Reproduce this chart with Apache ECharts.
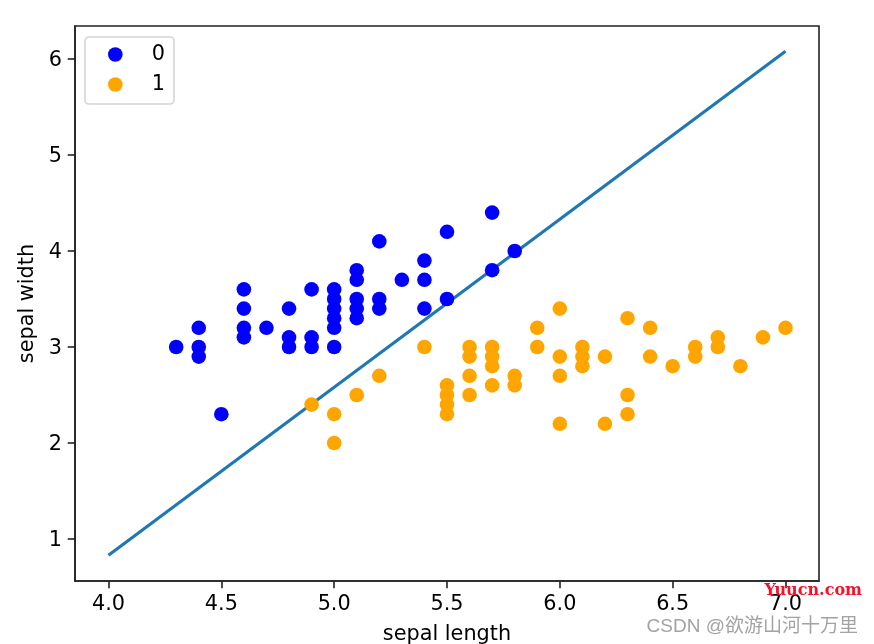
<!DOCTYPE html>
<html>
<head>
<meta charset="utf-8">
<title>sepal scatter</title>
<script src="https://cdn.jsdelivr.net/npm/echarts@6/dist/echarts.min.js"></script>
<style>
html,body{margin:0;padding:0;background:#fff;}
#chart{width:874px;height:644px;}
</style>
</head>
<body>
<div id="chart"></div>
<script>
// points: [sepal length, sepal width]
var class0 = [
	[4.3,3.0],[4.4,3.2],[4.4,3.0],[4.4,2.9],[4.5,2.3],
	[4.6,3.6],[4.6,3.4],[4.6,3.2],[4.6,3.1],[4.7,3.2],
	[4.8,3.4],[4.8,3.1],[4.8,3.0],[4.9,3.6],[4.9,3.1],[4.9,3.0],
	[5.0,3.6],[5.0,3.5],[5.0,3.4],[5.0,3.3],[5.0,3.2],[5.0,3.0],
	[5.1,3.8],[5.1,3.7],[5.1,3.5],[5.1,3.4],[5.1,3.3],
	[5.2,4.1],[5.2,3.5],[5.2,3.4],[5.3,3.7],
	[5.4,3.9],[5.4,3.7],[5.4,3.4],[5.5,4.2],[5.5,3.5],
	[5.7,4.4],[5.7,3.8],[5.8,4.0]
];
var class1 = [
	[4.9,2.4],[5.0,2.3],[5.0,2.0],[5.1,2.5],[5.2,2.7],[5.4,3.0],
	[5.5,2.6],[5.5,2.5],[5.5,2.4],[5.5,2.3],
	[5.6,3.0],[5.6,2.9],[5.6,2.7],[5.6,2.5],
	[5.7,3.0],[5.7,2.9],[5.7,2.8],[5.7,2.6],
	[5.8,2.7],[5.8,2.6],[5.9,3.2],[5.9,3.0],
	[6.0,3.4],[6.0,2.9],[6.0,2.7],[6.0,2.2],
	[6.1,3.0],[6.1,2.9],[6.1,2.8],[6.2,2.9],[6.2,2.2],
	[6.3,3.3],[6.3,2.5],[6.3,2.3],[6.4,3.2],[6.4,2.9],[6.5,2.8],
	[6.6,3.0],[6.6,2.9],[6.7,3.1],[6.7,3.0],[6.8,2.8],[6.9,3.1],[7.0,3.2]
];
var boundary = [[4.0,0.83],[7.0,6.08]];
var xTicks = [4.0,4.5,5.0,5.5,6.0,6.5,7.0];
var yTicks = [1,2,3,4,5,6];

var font = 'DejaVu Sans';
var myChart = echarts.init(document.getElementById('chart'));
myChart.setOption({
	animation:false,
	backgroundColor:'#fff',
	grid:{show:true,left:75,right:55,top:26,bottom:63,outerBoundsMode:'none',borderColor:'#222',borderWidth:1.6,backgroundColor:'#fff'},
	legend:{
		left:85,top:37,
		orient:'vertical',
		data:['0','1'],
		icon:'circle',
		itemWidth:63,itemHeight:14.6,itemGap:9,
		padding:[7,9,9,23],
		borderColor:'#d5d5d5',borderWidth:1.6,borderRadius:4,
		backgroundColor:'#fff',
		textStyle:{fontFamily:font,fontSize:20.8,color:'#000'}
	},
	xAxis:{
		type:'value',min:3.8516,max:7.1484,
		name:'sepal length',nameLocation:'middle',nameGap:43,
		nameTextStyle:{fontFamily:font,fontSize:20.8,color:'#000'},
		splitLine:{show:false},
		axisLine:{onZero:false,lineStyle:{color:'#222',width:1.6}},
		axisTick:{customValues:xTicks,length:7.3,lineStyle:{color:'#222',width:1.6}},
		axisLabel:{customValues:xTicks,margin:13,fontFamily:font,fontSize:20.8,color:'#000',
			formatter:function(v){return v.toFixed(1);}}
	},
	yAxis:{
		type:'value',min:0.5625,max:6.3438,
		name:'sepal width',nameLocation:'middle',nameGap:35,
		nameTextStyle:{fontFamily:font,fontSize:20.8,color:'#000'},
		splitLine:{show:false},
		axisLine:{onZero:false,lineStyle:{color:'#222',width:1.6}},
		axisTick:{customValues:yTicks,length:7.3,lineStyle:{color:'#222',width:1.6}},
		axisLabel:{customValues:yTicks,margin:13,fontFamily:font,fontSize:20.8,color:'#000',
			formatter:'{n|{value}}',
			rich:{n:{fontFamily:font,fontSize:20.8,color:'#000',padding:[4,0,0,0]}}}
	},
	series:[
		{type:'line',data:boundary,showSymbol:false,z:1,lineStyle:{color:'#1f77b4',width:3.1}},
		{name:'0',type:'scatter',data:class0,symbolSize:14.6,z:2,itemStyle:{color:'#0000ff',opacity:1}},
		{name:'1',type:'scatter',data:class1,symbolSize:14.6,z:3,itemStyle:{color:'#ffa500',opacity:1}}
	],
	graphic:[
		{type:'text',right:12,top:583,z:100,style:{text:'Yuucn.com',fill:'#f5112a',font:'bold 16px "DejaVu Serif"'}},
		{type:'text',right:16,top:617,z:100,style:{text:'CSDN @欲游山河十万里',fill:'#a3a3a3',font:'19px "Liberation Sans","Noto Sans CJK SC"'}}
	]
});
</script>
</body>
</html>
